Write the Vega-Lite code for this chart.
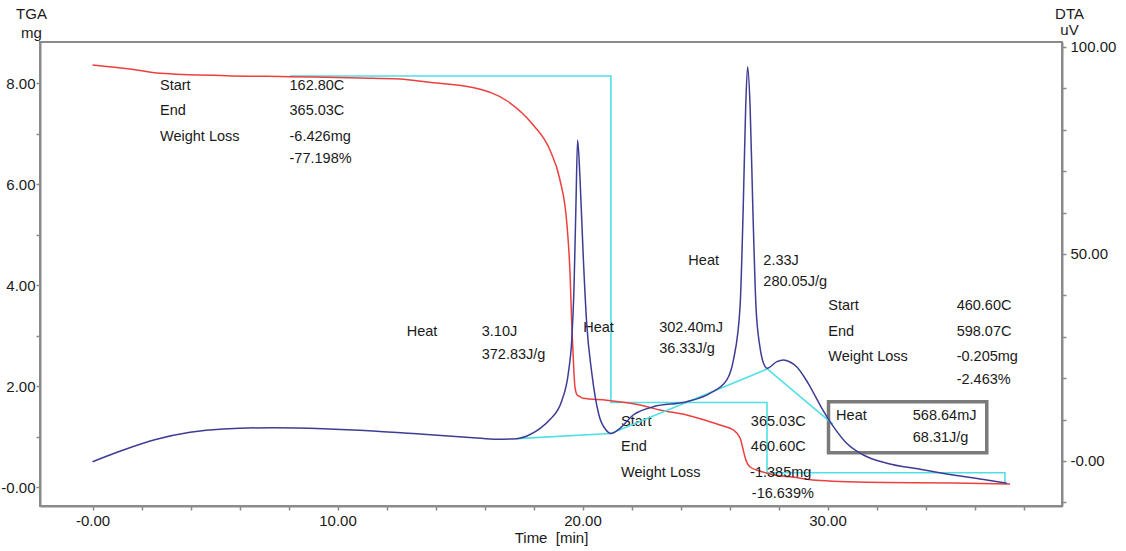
{
  "$schema": "https://vega.github.io/schema/vega-lite/v6.json",
  "width": 1022,
  "height": 464,
  "autosize": {"type": "none"},
  "padding": {"left": 40, "top": 42, "right": 64, "bottom": 45},
  "background": "white",
  "config": {
    "view": {"stroke": "#8a8a8a", "strokeWidth": 2},
    "font": "Liberation Sans",
    "axis": {
      "grid": false,
      "domainColor": "#8a8a8a",
      "domainWidth": 2,
      "tickColor": "#8a8a8a",
      "tickWidth": 1.5,
      "tickSize": 4,
      "labelFont": "Liberation Sans",
      "labelFontSize": 15,
      "labelColor": "#1a1a1a",
      "titleFont": "Liberation Sans",
      "titleFontSize": 15,
      "titleFontWeight": "normal",
      "titleColor": "#1a1a1a",
      "labelOverlap": false,
      "labelPadding": 1
    }
  },
  "datasets": {
    "tga": [
      {"t": 0.00, "mg": 8.356}, {"t": 1.53, "mg": 8.277}, {"t": 2.76, "mg": 8.192}, {"t": 5.48, "mg": 8.145},
      {"t": 8.06, "mg": 8.125}, {"t": 10.92, "mg": 8.099}, {"t": 12.55, "mg": 8.079}, {"t": 13.64, "mg": 8.02},
      {"t": 15.61, "mg": 7.90}, {"t": 16.96, "mg": 7.634}, {"t": 17.99, "mg": 7.168}, {"t": 18.67, "mg": 6.673},
      {"t": 19.08, "mg": 6.079}, {"t": 19.36, "mg": 5.222}, {"t": 19.49, "mg": 4.232}, {"t": 19.56, "mg": 3.242},
      {"t": 19.62, "mg": 2.580}, {"t": 19.69, "mg": 1.986}, {"t": 19.78, "mg": 1.822}, {"t": 19.90, "mg": 1.788},
      {"t": 20.03, "mg": 1.756}, {"t": 20.99, "mg": 1.72}, {"t": 22.35, "mg": 1.624}, {"t": 23.16, "mg": 1.525},
      {"t": 24.25, "mg": 1.426}, {"t": 25.20, "mg": 1.293}, {"t": 25.61, "mg": 1.228}, {"t": 26.16, "mg": 1.129},
      {"t": 26.43, "mg": 0.970}, {"t": 26.56, "mg": 0.733}, {"t": 26.63, "mg": 0.594}, {"t": 26.84, "mg": 0.396},
      {"t": 27.24, "mg": 0.317}, {"t": 27.84, "mg": 0.238}, {"t": 28.55, "mg": 0.198}, {"t": 29.69, "mg": 0.129},
      {"t": 32.39, "mg": 0.089}, {"t": 35.13, "mg": 0.079}, {"t": 37.45, "mg": 0.059}
    ],
    "steps": [
      {"i": 1, "t": 8.06, "mg": 8.139}, {"i": 2, "t": 21.16, "mg": 8.139}, {"i": 3, "t": 21.16, "mg": 1.673},
      {"i": 4, "t": 27.53, "mg": 1.673}, {"i": 5, "t": 27.53, "mg": 0.283}, {"i": 6, "t": 37.24, "mg": 0.283},
      {"i": 7, "t": 37.24, "mg": 0.079}
    ],
    "dta": [
      {"t": 0.00, "uv": -0.17}, {"t": 1.26, "uv": 2.66}, {"t": 2.62, "uv": 5.24}, {"t": 3.98, "uv": 6.93},
      {"t": 5.34, "uv": 7.73}, {"t": 7.38, "uv": 8.04}, {"t": 9.42, "uv": 7.80}, {"t": 11.46, "uv": 7.25},
      {"t": 13.50, "uv": 6.45}, {"t": 15.54, "uv": 5.63}, {"t": 16.50, "uv": 5.24}, {"t": 17.31, "uv": 5.40},
      {"t": 17.86, "uv": 6.40}, {"t": 18.27, "uv": 7.90}, {"t": 18.67, "uv": 10.0}, {"t": 19.15, "uv": 14.5},
      {"t": 19.42, "uv": 21.18}, {"t": 19.56, "uv": 29.23}, {"t": 19.65, "uv": 41.30}, {"t": 19.73, "uv": 61.43},
      {"t": 19.80, "uv": 77.54}, {"t": 19.90, "uv": 67.87}, {"t": 20.03, "uv": 49.35}, {"t": 20.17, "uv": 33.26},
      {"t": 20.38, "uv": 21.18}, {"t": 20.67, "uv": 11.11}, {"t": 20.96, "uv": 7.49}, {"t": 21.16, "uv": 6.64},
      {"t": 21.53, "uv": 7.90}, {"t": 22.07, "uv": 11.11}, {"t": 22.89, "uv": 13.12}, {"t": 24.25, "uv": 14.32},
      {"t": 25.20, "uv": 16.35}, {"t": 25.89, "uv": 19.57}, {"t": 26.16, "uv": 24.40}, {"t": 26.43, "uv": 37.27},
      {"t": 26.56, "uv": 61.43}, {"t": 26.66, "uv": 85.58}, {"t": 26.74, "uv": 95.24}, {"t": 26.84, "uv": 85.58},
      {"t": 26.95, "uv": 61.43}, {"t": 27.08, "uv": 37.27}, {"t": 27.24, "uv": 27.61}, {"t": 27.37, "uv": 23.91},
      {"t": 27.54, "uv": 22.39}, {"t": 27.93, "uv": 23.99}, {"t": 28.20, "uv": 24.40}, {"t": 28.47, "uv": 23.91},
      {"t": 28.74, "uv": 22.78}, {"t": 29.21, "uv": 18.77}, {"t": 29.74, "uv": 13.04}, {"t": 30.24, "uv": 8.29},
      {"t": 30.78, "uv": 4.28}, {"t": 31.46, "uv": 1.45}, {"t": 32.42, "uv": -0.56}, {"t": 33.78, "uv": -2.00},
      {"t": 35.13, "uv": -3.38}, {"t": 36.50, "uv": -4.59}, {"t": 37.32, "uv": -5.39}
    ],
    "base": [
      {"i": 1, "t": 17.31, "uv": 5.40}, {"i": 2, "t": 21.16, "uv": 6.64},
      {"i": 3, "t": 27.54, "uv": 22.22}, {"i": 4, "t": 30.22, "uv": 8.9}
    ],
    "notes": [
      {"t": 2.755, "mg": 7.941, "label": "Start"},
      {"t": 2.755, "mg": 7.446, "label": "End"},
      {"t": 2.755, "mg": 6.931, "label": "Weight Loss"},
      {"t": 8.041, "mg": 7.941, "label": "162.80C"},
      {"t": 8.041, "mg": 7.446, "label": "365.03C"},
      {"t": 8.041, "mg": 6.931, "label": "-6.426mg"},
      {"t": 8.041, "mg": 6.495, "label": "-77.198%"},
      {"t": 12.824, "mg": 3.069, "label": "Heat"},
      {"t": 15.886, "mg": 3.069, "label": "3.10J"},
      {"t": 15.886, "mg": 2.614, "label": "372.83J/g"},
      {"t": 20.03, "mg": 3.149, "label": "Heat"},
      {"t": 23.13, "mg": 3.149, "label": "302.40mJ"},
      {"t": 23.13, "mg": 2.733, "label": "36.33J/g"},
      {"t": 21.57, "mg": 1.287, "label": "Start"},
      {"t": 21.57, "mg": 0.786, "label": "End"},
      {"t": 21.57, "mg": 0.283, "label": "Weight Loss"},
      {"t": 26.87, "mg": 1.287, "label": "365.03C"},
      {"t": 26.87, "mg": 0.786, "label": "460.60C"},
      {"t": 26.84, "mg": 0.283, "label": "-1.385mg"},
      {"t": 26.91, "mg": -0.145, "label": "-16.639%"},
      {"t": 24.32, "mg": 4.475, "label": "Heat"},
      {"t": 27.38, "mg": 4.475, "label": "2.33J"},
      {"t": 27.38, "mg": 4.053, "label": "280.05J/g"},
      {"t": 30.03, "mg": 3.584, "label": "Start"},
      {"t": 30.03, "mg": 3.075, "label": "End"},
      {"t": 30.03, "mg": 2.568, "label": "Weight Loss"},
      {"t": 35.27, "mg": 3.584, "label": "460.60C"},
      {"t": 35.27, "mg": 3.075, "label": "598.07C"},
      {"t": 35.27, "mg": 2.568, "label": "-0.205mg"},
      {"t": 35.27, "mg": 2.119, "label": "-2.463%"},
      {"t": 30.35, "mg": 1.406, "label": "Heat"},
      {"t": 33.48, "mg": 1.406, "label": "568.64mJ"},
      {"t": 33.48, "mg": 0.964, "label": "68.31J/g"}
    ],
    "box": [
      {"t": 30.04, "t2": 36.50, "mg": 1.689, "mg2": 0.679}
    ]
  },
  "layer": [
    {
      "layer": [
        {
          "data": {"name": "steps"},
          "mark": {"type": "line", "color": "#4fe0e6", "strokeWidth": 1.6},
          "encoding": {
            "x": {
              "field": "t", "type": "quantitative",
              "scale": {"domain": [-2.143, 39.57], "nice": false, "zero": false},
              "axis": {
                "title": "Time\u00a0\u00a0[min]",
                "values": [0, 2, 4, 6, 8, 10, 12, 14, 16, 18, 20, 22, 24, 26, 28, 30, 32, 34, 36, 38],
                "labelExpr": "datum.value == 0 ? '-0.00' : (datum.value % 10 == 0 ? format(datum.value, '.2f') : '')",
                "labelPadding": 3,
                "titlePadding": 2
              }
            },
            "y": {
              "field": "mg", "type": "quantitative",
              "scale": {"domain": [-0.376, 8.812], "nice": false, "zero": false},
              "axis": {
                "title": ["TGA", "mg"],
                "orient": "left",
                "values": [0, 0.5, 1, 1.5, 2, 2.5, 3, 3.5, 4, 4.5, 5, 5.5, 6, 6.5, 7, 7.5, 8, 8.5],
                "labelExpr": "datum.value == 0 ? '-0.00' : (datum.value % 2 == 0 ? format(datum.value, '.2f') : '')",
                "titleAngle": 0,
                "titleAlign": "center",
                "titleBaseline": "top",
                "titleX": -9,
                "titleY": -36,
                "titleLineHeight": 19
              }
            },
            "order": {"field": "i", "type": "quantitative"}
          }
        },
        {
          "data": {"name": "tga"},
          "mark": {"type": "line", "color": "#ee3f3f", "strokeWidth": 1.5, "interpolate": "monotone"},
          "encoding": {
            "x": {"field": "t", "type": "quantitative", "scale": {"domain": [-2.143, 39.57], "nice": false, "zero": false}},
            "y": {"field": "mg", "type": "quantitative", "scale": {"domain": [-0.376, 8.812], "nice": false, "zero": false}}
          }
        },
        {
          "data": {"name": "box"},
          "mark": {"type": "rect", "fill": null, "fillOpacity": 0, "stroke": "#7a7a7a", "strokeWidth": 3.5},
          "encoding": {
            "x": {"field": "t", "type": "quantitative", "scale": {"domain": [-2.143, 39.57], "nice": false, "zero": false}},
            "x2": {"field": "t2"},
            "y": {"field": "mg", "type": "quantitative", "scale": {"domain": [-0.376, 8.812], "nice": false, "zero": false}},
            "y2": {"field": "mg2"}
          }
        },
        {
          "data": {"name": "notes"},
          "mark": {"type": "text", "align": "left", "baseline": "middle", "font": "Liberation Sans", "fontSize": 14.5, "color": "#1a1a1a"},
          "encoding": {
            "x": {"field": "t", "type": "quantitative", "scale": {"domain": [-2.143, 39.57], "nice": false, "zero": false}},
            "y": {"field": "mg", "type": "quantitative", "scale": {"domain": [-0.376, 8.812], "nice": false, "zero": false}},
            "text": {"field": "label", "type": "nominal"}
          }
        }
      ]
    },
    {
      "layer": [
        {
          "data": {"name": "base"},
          "mark": {"type": "line", "color": "#4fe0e6", "strokeWidth": 1.6},
          "encoding": {
            "x": {"field": "t", "type": "quantitative", "scale": {"domain": [-2.143, 39.57], "nice": false, "zero": false}},
            "y": {
              "field": "uv", "type": "quantitative",
              "scale": {"domain": [-10.87, 101.2], "nice": false, "zero": false},
              "axis": {
                "title": ["DTA", "uV"],
                "orient": "right",
                "values": [-10, 0, 10, 20, 30, 40, 50, 60, 70, 80, 90, 100],
                "labelExpr": "datum.value == 0 ? '-0.00' : (datum.value % 50 == 0 ? format(datum.value, '.2f') : '')",
                "labelPadding": 4,
                "titleAngle": 0,
                "titleAlign": "center",
                "titleBaseline": "top",
                "titleX": 7,
                "titleY": -36,
                "titleLineHeight": 16
              }
            },
            "order": {"field": "i", "type": "quantitative"}
          }
        },
        {
          "data": {"name": "dta"},
          "mark": {"type": "line", "color": "#3d3d94", "strokeWidth": 1.5, "interpolate": "monotone"},
          "encoding": {
            "x": {"field": "t", "type": "quantitative", "scale": {"domain": [-2.143, 39.57], "nice": false, "zero": false}},
            "y": {"field": "uv", "type": "quantitative", "scale": {"domain": [-10.87, 101.2], "nice": false, "zero": false}}
          }
        }
      ]
    }
  ],
  "resolve": {"scale": {"y": "independent"}}
}
